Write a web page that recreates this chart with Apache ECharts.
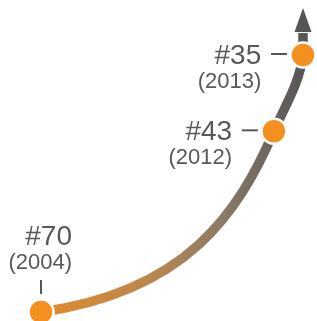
<!DOCTYPE html>
<html>
<head>
<meta charset="utf-8">
<script src="https://cdn.jsdelivr.net/npm/echarts@6/dist/echarts.min.js"></script>
<style>
  html, body { margin: 0; padding: 0; background: #fff; }
  #chart { width: 317px; height: 321px; }
</style>
</head>
<body>
<div id="chart"></div>
<script>
// data
var years = [2004, 2012, 2013];
var ranks = [70, 43, 35];
var rankLabels = ["#70", "#43", "#35"];
var yearLabels = ["(2004)", "(2012)", "(2013)"];

var textColor = "#57585a";
var dotColor = "#f39020";

var chart = echarts.init(document.getElementById("chart"));

var points = years.map(function (y, i) {
  return [y, ranks[i]];
});

// curve + arrow + little connector ticks
function renderCurve(params, api) {
  var i = params.dataIndex;
  var p = api.coord([years[i], ranks[i]]);
  var children = [];

  // connector tick next to each dot
  if (i === 0) {
    children.push({
      type: "line",
      shape: { x1: p[0], y1: p[1] - 32, x2: p[0], y2: p[1] - 18 },
      style: { stroke: textColor, lineWidth: 2 }
    });
  } else {
    children.push({
      type: "line",
      shape: { x1: p[0] - 32, y1: p[1] - 1, x2: p[0] - 16, y2: p[1] - 1 },
      style: { stroke: textColor, lineWidth: 2 }
    });
  }

  if (i === years.length - 1) {
    var c = years.map(function (y, k) {
      return api.coord([y, ranks[k]]);
    });
    // tangent directions at each point (pixel space)
    var tan = [[0.99, -0.14], [0.4, -0.92], [0.12, -0.99]];
    var d = "M" + c[0][0] + " " + c[0][1];
    for (var k = 1; k < c.length; k++) {
      var a = c[k - 1], b = c[k];
      var chord = Math.sqrt(Math.pow(b[0] - a[0], 2) + Math.pow(b[1] - a[1], 2));
      var h0 = k === 1 ? 0.5 * chord : 0.35 * chord;
      var h1 = k === 1 ? 0.3 * chord : 0.35 * chord;
      d += " C" + (a[0] + tan[k - 1][0] * h0) + " " + (a[1] + tan[k - 1][1] * h0) +
        " " + (b[0] - tan[k][0] * h1) + " " + (b[1] - tan[k][1] * h1) +
        " " + b[0] + " " + b[1];
    }
    var last = c[c.length - 1];
    d += " L" + last[0] + " " + (last[1] - 22);

    children.unshift({
      type: "polygon",
      shape: {
        points: [
          [last[0], last[1] - 47],
          [last[0] - 8.5, last[1] - 23],
          [last[0] + 8.5, last[1] - 23]
        ]
      },
      style: { fill: "#555555" }
    });
    children.unshift({
      type: "path",
      shape: { pathData: d },
      style: {
        fill: "none",
        lineWidth: 9.5,
        stroke: new echarts.graphic.LinearGradient(c[0][0], 0, last[0], 0, [
          { offset: 0, color: "#e38a2c" },
          { offset: 0.43, color: "#b8874f" },
          { offset: 0.7, color: "#8a7a68" },
          { offset: 0.88, color: "#69635f" },
          { offset: 1, color: "#575656" }
        ], true)
      }
    });
  }
  return { type: "group", children: children };
}

var option = {
  animation: false,
  grid: { left: 41, right: 14, top: 55, bottom: 9 },
  xAxis: { type: "value", min: 2004, max: 2013, show: false },
  yAxis: { type: "log", logBase: 10, inverse: true, min: 35, max: 70, show: false },
  series: [
    {
      type: "custom",
      renderItem: renderCurve,
      clip: false,
      silent: true,
      z: 1,
      data: points
    },
    {
      type: "scatter",
      z: 3,
      symbolSize: 25,
      itemStyle: { color: dotColor, borderColor: "#ffffff", borderWidth: 2.5, opacity: 1 },
      data: points.map(function (pt, i) {
        return {
          value: pt,
          label: i === 0
            ? { position: "top", distance: 22, align: "right", offset: [31, 0] }
            : { position: "left", distance: 28, offset: [0, 14] }
        };
      }),
      label: {
        show: true,
        color: textColor,
        fontFamily: "Liberation Sans, Arial, sans-serif",
        formatter: function (p) {
          return "{a|" + rankLabels[p.dataIndex] + "}\n{b|" + yearLabels[p.dataIndex] + "}";
        },
        rich: {
          a: { fontSize: 28, lineHeight: 26, color: textColor, fontFamily: "Liberation Sans, Arial, sans-serif" },
          b: { fontSize: 22, lineHeight: 26, color: textColor, fontFamily: "Liberation Sans, Arial, sans-serif" }
        }
      }
    }
  ]
};

chart.setOption(option);
</script>
</body>
</html>
